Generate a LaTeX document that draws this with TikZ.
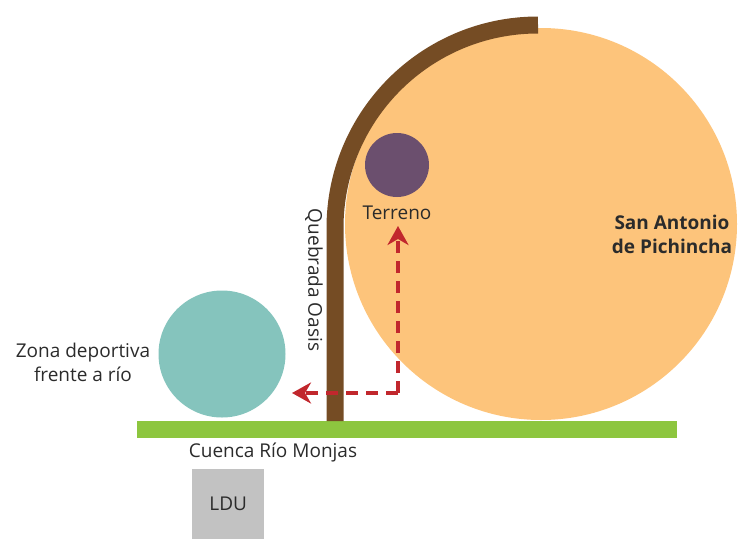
\documentclass[tikz,border=0pt]{standalone}
\usepackage{fontspec}
\setmainfont{Open Sans}
\usetikzlibrary{arrows.meta}
\definecolor{orangec}{HTML}{FDC47B}
\definecolor{brownc}{HTML}{754C24}
\definecolor{purplec}{HTML}{6B4F6E}
\definecolor{tealc}{HTML}{85C4BD}
\definecolor{greenc}{HTML}{8DC63F}
\definecolor{grayc}{HTML}{C2C2C2}
\definecolor{redc}{HTML}{C1272D}
\definecolor{textc}{HTML}{2B2B2B}
\begin{document}
\begin{tikzpicture}[x=1pt,y=-1pt,
  lbl/.style={text=textc,font=\fontsize{19}{23}\selectfont,align=center,inner sep=0pt},
  redarrow/.style={draw=redc,line width=4.5pt,dash pattern=on 12pt off 8pt,-{Stealth[length=19pt,width=21pt,inset=6pt]}}]
\useasboundingbox (0,0) rectangle (738,538);
% big circle
\fill[orangec] (541,224) circle (196);
% green bar
\fill[greenc] (137,421) rectangle (677,438);
% brown quebrada
\draw[brownc,line width=17pt] (538,25) arc[start angle=270,end angle=180,radius=203] -- (335,421);
% circles
\node[circle,fill=purplec,minimum size=64pt,inner sep=0pt] (terr) at (397,165) {};
\node[circle,fill=tealc,minimum size=127pt,inner sep=0pt] (zona) at (222,354) {};
% LDU
\node[fill=grayc,minimum width=72pt,minimum height=70pt,inner sep=0pt,anchor=north west] (ldu) at (192,469) {};
\node[lbl] at (ldu.center) {LDU};
% labels
\node[lbl] (terrl) at (397,213) {Terreno};
\node[lbl] (zonal) at (83,362) {Zona deportiva\\[1pt]frente a río};
\node[lbl] (cuenca) at (273,452) {Cuenca Río Monjas};
\node[lbl,rotate=-90] (queb) at (314,280) {Quebrada Oasis};
\node[lbl,font=\fontsize{19}{23}\selectfont\bfseries] (sa) at (672,234) {San Antonio\\[1pt]de Pichincha};
% red arrows
\coordinate (corner) at (398,393);
\coordinate (up) at (398,226);
\coordinate (left) at (292,393);
\draw[redarrow] (corner) -- (up);
\draw[redarrow] (corner) -- (left);
\end{tikzpicture}
\end{document}
